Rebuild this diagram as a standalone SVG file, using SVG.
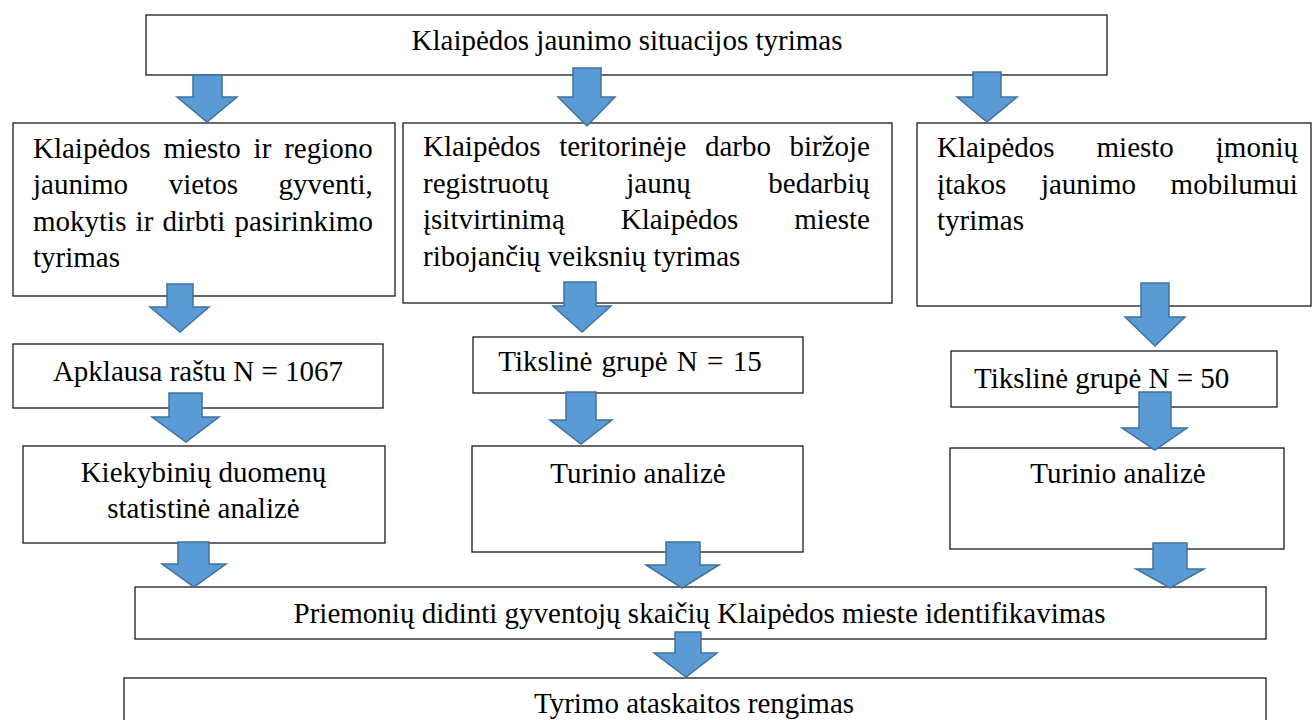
<svg xmlns="http://www.w3.org/2000/svg" width="1312" height="720" viewBox="0 0 1312 720">
<style>
.box{fill:#fff;stroke:#1a1a1a;stroke-width:1.3}
.t{font-family:"Liberation Serif","Times New Roman",serif;font-size:29px;fill:#000}
.c{text-anchor:middle}
.arr{fill:#5B9BD5;stroke:#41719C;stroke-width:1.5;stroke-linejoin:miter}
</style>
<rect width="1312" height="720" fill="#fff"/>
<g id="n-top">
<rect class="box" x="146" y="15" width="961" height="60"/>
<text class="t c" x="627" y="50">Klaipėdos jaunimo situacijos tyrimas</text>
</g>
<g id="n-l1">
<rect class="box" x="13" y="123" width="382" height="173"/>
<text class="t">
<tspan x="33" y="157.5" word-spacing="5.6">Klaipėdos miesto ir regiono</tspan>
<tspan x="33" y="194" word-spacing="33.4">jaunimo vietos gyventi,</tspan>
<tspan x="33" y="230.7" word-spacing="1.9">mokytis ir dirbti pasirinkimo</tspan>
<tspan x="33" y="267.4">tyrimas</tspan>
</text>
</g>
<g id="n-m1">
<rect class="box" x="403" y="123" width="489" height="180"/>
<text class="t">
<tspan x="423" y="156" word-spacing="11.3">Klaipėdos teritorinėje darbo biržoje</tspan>
<tspan x="423" y="192.5" word-spacing="70.4">registruotų jaunų bedarbių</tspan>
<tspan x="423" y="229" word-spacing="48.7">įsitvirtinimą Klaipėdos mieste</tspan>
<tspan x="423" y="265.5">ribojančių veiksnių tyrimas</tspan>
</text>
</g>
<g id="n-r1">
<rect class="box" x="917" y="123" width="394" height="183"/>
<text class="t">
<tspan x="937" y="157" word-spacing="34.7">Klaipėdos miesto įmonių</tspan>
<tspan x="937" y="193.5" word-spacing="27.4">įtakos jaunimo mobilumui</tspan>
<tspan x="937" y="230">tyrimas</tspan>
</text>
</g>
<g id="n-l2">
<rect class="box" x="13" y="344" width="370" height="64"/>
<text class="t c" x="198" y="381">Apklausa raštu N = 1067</text>
</g>
<g id="n-m2">
<rect class="box" x="473" y="337" width="330" height="56"/>
<text class="t c" x="630" y="371" word-spacing="2">Tikslinė grupė N = 15</text>
</g>
<g id="n-r2">
<rect class="box" x="951" y="351" width="326" height="56"/>
<text class="t" x="974" y="388">Tikslinė grupė N = 50</text>
</g>
<g id="n-l3">
<rect class="box" x="23" y="446" width="362" height="97"/>
<text class="t c" x="203.5" y="482">Kiekybinių duomenų</text>
<text class="t c" x="203.5" y="518">statistinė analizė</text>
</g>
<g id="n-m3">
<rect class="box" x="472" y="446" width="331" height="106"/>
<text class="t c" x="638" y="483">Turinio analizė</text>
</g>
<g id="n-r3">
<rect class="box" x="950" y="448" width="334" height="101"/>
<text class="t c" x="1118" y="483">Turinio analizė</text>
</g>
<g id="n-b1">
<rect class="box" x="135" y="587" width="1131" height="52"/>
<text class="t c" x="699.5" y="623">Priemonių didinti gyventojų skaičių Klaipėdos mieste identifikavimas</text>
</g>
<g id="n-b2">
<rect class="box" x="124" y="678" width="1142" height="60"/>
<text class="t c" x="694" y="713">Tyrimo ataskaitos rengimas</text>
</g>
<g id="connectors">
<path class="arr" d="M193 75H222V97H237L207 122L177 97H193Z"/>
<path class="arr" d="M573 68H601V97H615L587 126L558 97H573Z"/>
<path class="arr" d="M973 72H1001V97H1017L987 122L957 97H973Z"/>
<path class="arr" d="M167 284H193V307H209L180 332L150 307H167Z"/>
<path class="arr" d="M564 282H596V306H611L582 332L553 306H564Z"/>
<path class="arr" d="M1141 283H1169V317H1185L1155 346L1125 317H1141Z"/>
<path class="arr" d="M169 393H202V417H219L186 442L152 417H169Z"/>
<path class="arr" d="M566 392H596V420H612L581 444L550 420H566Z"/>
<path class="arr" d="M1139 392H1171V428H1187L1155 450L1122 428H1139Z"/>
<path class="arr" d="M178 542H209V564H226L194 587L162 564H178Z"/>
<path class="arr" d="M666 542H700V565H719L682 588L646 565H666Z"/>
<path class="arr" d="M1153 543H1187V569H1204L1170 588L1136 569H1153Z"/>
<path class="arr" d="M675 632H701V653H717L686 677L654 653H675Z"/>
</g>
</svg>
